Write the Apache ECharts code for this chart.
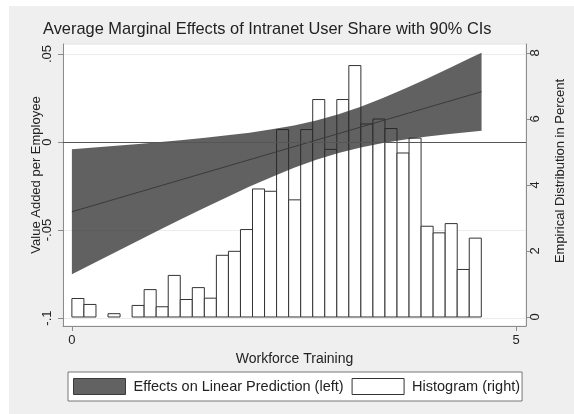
<!DOCTYPE html>
<html><head><meta charset="utf-8">
<script src="https://cdn.jsdelivr.net/npm/echarts@6/dist/echarts.min.js"></script>
<style>
html,body{margin:0;padding:0;background:#fff;}
#bg{position:absolute;left:9px;top:6px;width:565px;height:408px;background:#efefef;}
#chart{position:absolute;left:0;top:0;width:574px;height:414px;}
</style></head><body>
<div id="bg"></div><div id="chart"></div>
<script>
const titleText = 'Average Marginal Effects of Intranet User Share with 90% CIs';
const xName = 'Workforce Training';
const leftName = 'Value Added per Employee';
const rightName = 'Empirical Distribution in Percent';
const bandName = 'Effects on Linear Prediction (left)';
const histName = 'Histogram (right)';

const xTicks = [0, 5];
const leftTicks = [-0.1, -0.05, 0, 0.05];
const rightTicks = [0, 2, 4, 6, 8];

// histogram: 34 bins starting at 0
const histStart = 0;
const histBinWidth = 0.1355;
const histPercent = [0.56, 0.38, 0, 0.10, 0, 0.35, 0.83, 0.31, 1.26, 0.53, 0.89, 0.57,
  1.87, 1.99, 2.65, 3.88, 3.81, 5.68, 3.55, 5.68, 6.59, 5.08, 6.59, 7.62, 5.85, 6.00,
  5.71, 4.97, 5.42, 2.75, 2.55, 2.83, 1.44, 2.39];

// 90% confidence band of the marginal effect
const ciX = [0, 0.25, 0.5, 0.75, 1.0, 1.25, 1.5, 1.75, 2.0, 2.25, 2.5, 2.75, 3.0, 3.25, 3.5, 3.75, 4.0, 4.25, 4.5, 4.61];
const ciUpper = [-0.0041, -0.0031, -0.0021, -0.0011, 0.0000, 0.0011, 0.0024, 0.0038, 0.0053, 0.0072, 0.0094, 0.0123, 0.0158, 0.0201, 0.0250, 0.0304, 0.0361, 0.0421, 0.0482, 0.0508];
const ciLower = [-0.0751, -0.0687, -0.0623, -0.0559, -0.0496, -0.0433, -0.0372, -0.0312, -0.0253, -0.0198, -0.0146, -0.0101, -0.0062, -0.0031, -0.0006, 0.0014, 0.0031, 0.0046, 0.0059, 0.0064];

// point estimate line
const effectX = [0, 4.61];
const effectY = [-0.0396, 0.0286];

const FONT = '"Liberation Sans", Arial, Helvetica, sans-serif';
const AX = '#8c8c8c';
const TXT = '#222';

const chart = echarts.init(document.getElementById('chart'), null, {renderer: 'canvas'});

const fmtLeft = v => (v === 0 ? '0' : String(v).replace('0.', '.'));

const histData = histPercent.map((h, i) => [histStart + i * histBinWidth, histStart + (i + 1) * histBinWidth, h]);

const option = {
  backgroundColor: 'transparent',
  animation: false,
  title: {
    text: titleText, left: 43, top: 21, padding: 0,
    textStyle: {fontSize: 16.4, fontWeight: 'normal', color: TXT, fontFamily: FONT}
  },
  legend: {
    left: 68, top: 372, orient: 'horizontal',
    padding: [6, 2, 6, 5], itemGap: 8, itemWidth: 52, itemHeight: 16,
    backgroundColor: '#fff', borderColor: '#777', borderWidth: 1, borderRadius: 0,
    selectedMode: false, icon: 'rect',
    textStyle: {fontSize: 14.5, color: TXT, fontFamily: FONT, padding: [0, 0, 0, 3]},
    data: [
      {name: bandName, itemStyle: {color: '#626262', borderColor: '#3a3a3a', borderWidth: 1, opacity: 1}},
      {name: histName, itemStyle: {color: '#fff', borderColor: '#333', borderWidth: 1}}
    ]
  },
  grid: {
    left: 63, right: 48, top: 44, bottom: 88,
    show: true, backgroundColor: '#fff', borderColor: '#e2e2e2', borderWidth: 1,
    containLabel: false, outerBoundsMode: 'none'
  },
  xAxis: {
    type: 'value', min: -0.1, max: 5.11,
    name: xName, nameLocation: 'middle', nameGap: 22,
    nameTextStyle: {fontSize: 14, color: TXT, fontFamily: FONT},
    axisLine: {show: true, onZero: false, lineStyle: {color: AX, width: 1}},
    axisTick: {show: true, length: 5, customValues: xTicks, lineStyle: {color: AX}},
    axisLabel: {customValues: xTicks, margin: 8, fontSize: 13, color: TXT, fontFamily: FONT},
    splitLine: {show: false}
  },
  yAxis: [
    {
      type: 'value', min: -0.1045, max: 0.0557, position: 'left',
      axisLine: {show: true, onZero: false, lineStyle: {color: AX, width: 1}},
      axisTick: {show: true, length: 5, customValues: leftTicks, lineStyle: {color: AX}},
      axisLabel: {customValues: leftTicks, rotate: 90, margin: 9, fontSize: 13, color: TXT, fontFamily: FONT, formatter: fmtLeft},
      splitLine: {show: true, lineStyle: {color: '#ececec', width: 1}}
    },
    {
      type: 'value', min: -0.273, max: 8.273, position: 'right',
      axisLine: {show: true, onZero: false, lineStyle: {color: AX, width: 1}},
      axisTick: {show: true, length: 5, customValues: rightTicks, lineStyle: {color: AX}},
      axisLabel: {customValues: rightTicks, rotate: 90, margin: 3, fontSize: 13, color: TXT, fontFamily: FONT},
      splitLine: {show: false}
    }
  ],
  graphic: [
    {type: 'text', x: 36, y: 175, rotation: Math.PI / 2, z: 100,
     style: {text: leftName, align: 'center', verticalAlign: 'middle', font: '13px ' + FONT, fill: TXT}},
    {type: 'text', x: 560, y: 171, rotation: Math.PI / 2, z: 100,
     style: {text: rightName, align: 'center', verticalAlign: 'middle', font: '13px ' + FONT, fill: TXT}}
  ],
  series: [
    {
      name: histName, type: 'custom', xAxisIndex: 0, yAxisIndex: 1, z: 2,
      itemStyle: {color: '#fff', borderColor: '#333'},
      encode: {x: [0, 1], y: 2},
      data: histData,
      renderItem: function (params, api) {
        const h = api.value(2);
        if (!h) return null;
        const p0 = api.coord([api.value(0), 0]);
        const p1 = api.coord([api.value(1), h]);
        return {
          type: 'rect',
          shape: {x: p0[0], y: p1[1], width: p1[0] - p0[0], height: p0[1] - p1[1]},
          style: {fill: '#fff', stroke: '#333', lineWidth: 1}
        };
      }
    },
    {
      name: bandName, type: 'custom', xAxisIndex: 0, yAxisIndex: 0, z: 3,
      itemStyle: {color: '#626262'},
      encode: {x: 0, y: 1},
      data: [[ciX[0], ciUpper[0]]],
      renderItem: function (params, api) {
        const pts = [];
        for (let i = 0; i < ciX.length; i++) pts.push(api.coord([ciX[i], ciUpper[i]]));
        for (let i = ciX.length - 1; i >= 0; i--) pts.push(api.coord([ciX[i], ciLower[i]]));
        return {type: 'polygon', shape: {points: pts}, style: {fill: 'rgba(36,36,36,0.72)'}};
      }
    },
    {
      name: 'effect', type: 'line', xAxisIndex: 0, yAxisIndex: 0, z: 4,
      data: effectX.map((x, i) => [x, effectY[i]]),
      symbol: 'none', lineStyle: {color: '#3a3a3a', width: 1}, itemStyle: {color: '#3a3a3a'},
      silent: true,
      markLine: {
        silent: true, symbol: 'none', label: {show: false},
        lineStyle: {color: '#555', width: 1, type: 'solid'},
        data: [{yAxis: 0}]
      }
    }
  ]
};
chart.setOption(option);
</script>
</body></html>
